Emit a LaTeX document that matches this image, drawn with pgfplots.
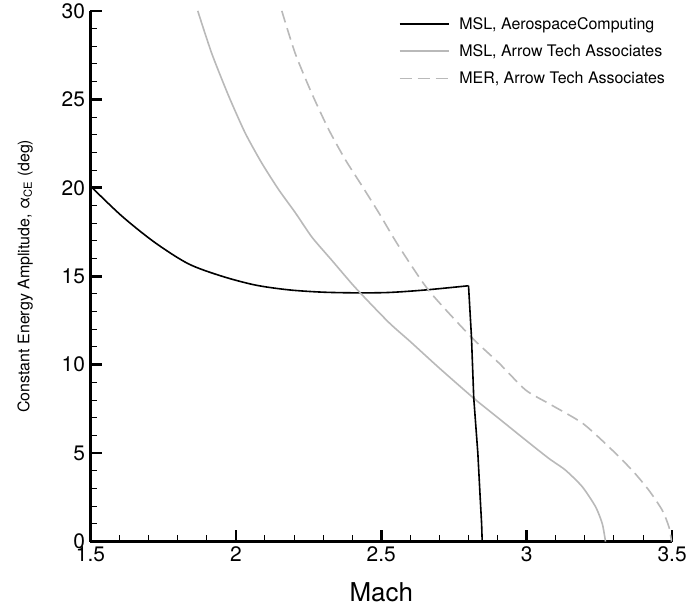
\documentclass[border=0pt]{standalone}
\usepackage{fontspec}
\setmainfont{TeX Gyre Heros}
\usepackage{pgfplots}
\pgfplotsset{compat=1.18}
\definecolor{atagray}{RGB}{185,185,185}

\begin{document}
\begin{tikzpicture}
\begin{axis}[
    scale only axis,
    width=581bp, height=530bp,
    xmin=1.5, xmax=3.5, ymin=0, ymax=30,
    axis lines=left,
    axis line style={line width=2.6bp, -},
    xtick={1.5,2,2.5,3,3.5},
    ytick={0,5,10,15,20,25,30},
    minor x tick num=4, minor y tick num=4,
    tick align=inside,
    major tick length=12bp, minor tick length=7bp,
    every major tick/.append style={line width=2.6bp, black},
    every minor tick/.append style={line width=1bp, black},
    /pgf/number format/assume math mode=true,
    tick label style={font=\fontsize{21}{23}\selectfont},
    xticklabel style={yshift=-2bp},
    yticklabel style={xshift=-2bp},
    xlabel={Mach},
    xlabel style={font=\fontsize{26}{28}\selectfont},
    xlabel shift=14bp,
    ylabel={Constant Energy Amplitude, α\textsubscript{CE} (deg)},
    ylabel style={font=\fontsize{16}{18}\selectfont},
    ylabel shift=22bp,
    legend cell align=left,
    legend image code/.code={\draw[#1] (0bp,0bp) -- (49bp,0bp);},
    legend style={at={(1,1)}, anchor=north east, xshift=-2bp, yshift=-2bp,
        draw=none, fill=none,
        font=\fontsize{16}{18}\selectfont, row sep=10bp,
        /tikz/every odd column/.append style={column sep=8bp}},
]
% MSL, AerospaceComputing
\addplot[black, line width=1.6bp, smooth, tension=0.5] coordinates {
    (1.5,20.1) (1.608,18.4) (1.722,16.9) (1.837,15.7) (1.952,15.0)
    (2.067,14.5) (2.181,14.23) (2.296,14.1) (2.411,14.06) (2.525,14.08)
    (2.65,14.22) (2.8,14.46)
};
% MSL, Arrow Tech Associates
\addplot[atagray, line width=1.6bp, smooth, tension=0.4] coordinates {
    (1.869,30) (1.917,27.6) (1.975,25.2) (2.032,23.1) (2.089,21.4) (2.147,19.9)
    (2.204,18.6) (2.262,17.2) (2.33,15.9) (2.411,14.35) (2.525,12.4)
    (2.6,11.3) (2.7,9.8) (2.818,8.1) (2.904,6.96) (2.996,5.74)
    (3.076,4.7) (3.133,4.04) (3.191,3.1) (3.237,1.96) (3.26,1.0) (3.271,0)
};
% MER, Arrow Tech Associates
\addplot[atagray, line width=1.6bp, dash pattern=on 12bp off 6bp, smooth, tension=0.4] coordinates {
    (2.158,30) (2.204,27.6) (2.262,25.3) (2.319,23.3) (2.376,21.6) (2.434,20.1)
    (2.491,18.6) (2.56,16.7) (2.663,14.2) (2.807,11.6) (2.904,10.1) (2.996,8.57)
    (3.076,7.8) (3.191,6.7) (3.282,5.36) (3.362,4.04) (3.42,2.9) (3.466,1.77)
    (3.489,0.83) (3.498,0)
};
% steep drop of the AerospaceComputing curve
\addplot[black, line width=1.6bp, forget plot] coordinates {
    (2.8,14.46) (2.81,11.6) (2.818,8.1) (2.832,5.0) (2.840,2.5) (2.845,1.0) (2.847,0)
};
\legend{{MSL, AerospaceComputing}, {MSL, Arrow Tech Associates}, {MER, Arrow Tech Associates}}
\end{axis}
% white margin to the left and below, as in the reference
\path (current axis.outer south west) ++(-14bp,-9bp);
\end{tikzpicture}
\end{document}
